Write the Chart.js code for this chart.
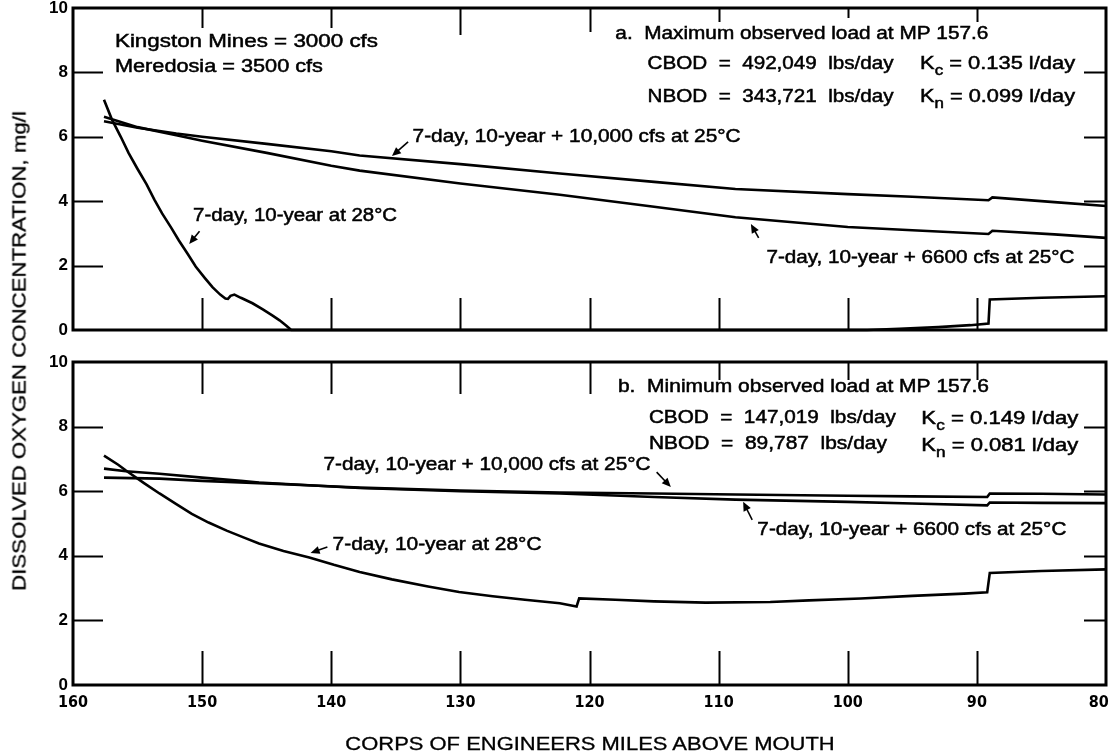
<!DOCTYPE html>
<html>
<head>
<meta charset="utf-8">
<title>Dissolved oxygen profiles, Illinois River</title>
<script src="https://cdn.jsdelivr.net/npm/chart.js@4.4.0/dist/chart.umd.min.js"></script>
<style>
  html, body { margin: 0; padding: 0; background: #fff; }
  #wrap { position: relative; width: 1110px; height: 752px; overflow: hidden; background: #fff; }
  canvas { position: absolute; left: 0; }
  #cTop { top: 0; }
  #cBot { top: 340px; }
  .axt { position: absolute; font-family: "Liberation Sans", Arial, sans-serif; color: #000; white-space: nowrap; line-height: 1; -webkit-text-stroke: 0.3px #000; }
  #xt { left: 590px; top: 744px; font-size: 18px; transform: translate(-50%, -50%) scaleX(1.22); }
  #yt { left: 19px; top: 351px; font-size: 19px; transform: translate(-50%, -50%) rotate(-90deg) scaleX(1.17); }
</style>
</head>
<body>
<div id="wrap">
  <canvas id="cTop" width="1110" height="345" style="width:1110px;height:345px"></canvas>
  <canvas id="cBot" width="1110" height="412" style="width:1110px;height:412px"></canvas>
  <div id="xt" class="axt">CORPS OF ENGINEERS MILES ABOVE MOUTH</div>
  <div id="yt" class="axt">DISSOLVED OXYGEN CONCENTRATION, mg/l</div>
</div>
<script>
// ---- axis ticks ----
const mileTicks = [160, 150, 140, 130, 120, 110, 100, 90, 80];
const doTicks = [0, 2, 4, 6, 8, 10];
const innerMileTicks = [150, 140, 130, 120, 110, 100, 90];
const innerDoTicks = [2, 4, 6, 8];

// ---- a. Maximum observed load at MP 157.6 ----
const aMiles28 = [157.6, 157.0, 156.3, 155.7, 155.0, 154.3, 153.7, 153.1, 152.4, 151.8, 151.1, 150.5, 149.8, 149.2, 148.6, 148.2, 148.0, 147.8, 147.5, 147.0, 146.1, 145.3, 144.6, 144.0, 143.5, 143.1, 98.5, 96.0, 93.0, 90.5, 89.1, 89.0, 85.0, 80.0];
const aDO28    = [7.15, 6.55, 6.00, 5.50, 5.00, 4.52, 4.05, 3.62, 3.18, 2.78, 2.35, 1.97, 1.62, 1.33, 1.10, 0.98, 0.97, 1.06, 1.10, 1.00, 0.83, 0.64, 0.46, 0.30, 0.14, 0.00, 0.00, 0.04, 0.09, 0.15, 0.20, 0.95, 1.00, 1.05];

const aMiles10k = [157.6, 155.0, 152.0, 150.0, 145.0, 140.0, 137.8, 130.0, 122.3, 115.0, 108.7, 100.0, 95.0, 89.1, 88.8, 84.0, 80.0];
const aDO10k    = [6.48, 6.28, 6.10, 6.00, 5.78, 5.55, 5.42, 5.15, 4.86, 4.60, 4.38, 4.22, 4.14, 4.03, 4.12, 3.97, 3.85];

const aMiles6600 = [157.6, 155.0, 152.0, 150.0, 145.0, 140.0, 137.8, 130.0, 122.3, 115.0, 108.7, 100.0, 95.0, 89.1, 88.8, 84.0, 80.0];
const aDO6600    = [6.62, 6.30, 6.05, 5.88, 5.50, 5.10, 4.95, 4.55, 4.20, 3.83, 3.50, 3.20, 3.10, 2.98, 3.08, 2.97, 2.86];

// ---- b. Minimum observed load at MP 157.6 ----
const bMiles28 = [157.6, 156.5, 155.9, 154.5, 153.3, 152.0, 150.8, 149.5, 148.1, 146.8, 145.6, 143.7, 141.7, 139.8, 137.8, 135.3, 132.5, 130.1, 127.5, 125.0, 122.3, 121.0, 120.8, 118.0, 115.0, 111.0, 106.0, 103.0, 99.0, 95.0, 91.0, 89.2, 89.0, 85.0, 80.0];
const bDO28    = [7.10, 6.82, 6.64, 6.25, 5.93, 5.60, 5.30, 5.03, 4.78, 4.57, 4.38, 4.15, 3.95, 3.72, 3.50, 3.27, 3.05, 2.88, 2.75, 2.64, 2.53, 2.43, 2.68, 2.64, 2.59, 2.55, 2.57, 2.62, 2.68, 2.76, 2.83, 2.87, 3.47, 3.53, 3.58];

const bMiles10k = [157.6, 153.3, 150.0, 145.6, 141.0, 137.8, 130.0, 122.3, 115.0, 108.7, 100.0, 95.0, 89.2, 89.0, 85.0, 80.0];
const bDO10k    = [6.42, 6.39, 6.32, 6.25, 6.17, 6.11, 6.02, 5.96, 5.93, 5.90, 5.86, 5.84, 5.82, 5.93, 5.92, 5.90];

const bMiles6600 = [157.6, 155.9, 153.3, 150.0, 147.0, 145.6, 141.0, 137.8, 130.0, 122.3, 115.0, 108.7, 100.0, 95.0, 89.2, 89.0, 85.0, 80.0];
const bDO6600    = [6.70, 6.62, 6.54, 6.42, 6.32, 6.27, 6.17, 6.10, 6.00, 5.93, 5.82, 5.74, 5.67, 5.62, 5.56, 5.65, 5.64, 5.63];

const TEXT_FONT = '18px "Liberation Sans", Arial, sans-serif';
const SUB_FONT = '14px "Liberation Sans", Arial, sans-serif';

function pts(miles, vals) {
  return miles.map((m, i) => ({ x: m, y: vals[i] }));
}

function series(miles, vals) {
  return {
    data: pts(miles, vals),
    borderColor: '#000',
    borderWidth: 2.6,
    pointRadius: 0,
    tension: 0,
    fill: false,
    clip: 3
  };
}

// Box border plus inward tick marks on all four sides
const framePlugin = {
  id: 'frame',
  afterDatasetsDraw(chart, args, opts) {
    const { ctx, chartArea: a, scales: { x, y } } = chart;
    ctx.save();
    ctx.strokeStyle = '#000';
    ctx.lineWidth = 2;
    ctx.beginPath();
    innerMileTicks.forEach((v, i) => {
      const px = Math.round(x.getPixelForValue(v)) + 0.5;
      ctx.moveTo(px, a.top); ctx.lineTo(px, a.top + opts.topLen[i]);
      ctx.moveTo(px, a.bottom); ctx.lineTo(px, a.bottom - opts.bottomLen);
    });
    innerDoTicks.forEach(v => {
      const py = Math.round(y.getPixelForValue(v)) + 0.5;
      ctx.moveTo(a.left, py); ctx.lineTo(a.left + opts.leftLen, py);
      ctx.moveTo(a.right, py); ctx.lineTo(a.right - opts.rightLen, py);
    });
    ctx.stroke();
    ctx.lineWidth = 3;
    ctx.strokeRect(a.left, a.top, a.right - a.left, a.bottom - a.top);
    ctx.restore();
  }
};

// Panel captions and curve labels with leader arrows
const notesPlugin = {
  id: 'notes',
  afterDatasetsDraw(chart, args, opts) {
    const { ctx, scales: { x, y } } = chart;
    ctx.save();
    ctx.fillStyle = '#000';
    ctx.strokeStyle = '#000';
    ctx.textBaseline = 'middle';
    ctx.textAlign = 'left';
    ctx.lineWidth = 0.5;
    (opts.texts || []).forEach(t => {
      const parts = Array.isArray(t.s) ? t.s : [t.s];
      let natural = 0;
      parts.forEach(p => {
        ctx.font = Array.isArray(p) ? SUB_FONT : TEXT_FONT;
        natural += ctx.measureText(Array.isArray(p) ? p[0] : p).width;
      });
      const px = x.getPixelForValue(t.x);
      const py = y.getPixelForValue(t.y);
      ctx.save();
      ctx.translate(px, py);
      ctx.scale(t.w / natural, 1);
      let cx = 0;
      parts.forEach(p => {
        const sub = Array.isArray(p);
        const str = sub ? p[0] : p;
        ctx.font = sub ? SUB_FONT : TEXT_FONT;
        const dy = sub ? 7 : 0;
        ctx.fillText(str, cx, dy);
        ctx.strokeText(str, cx, dy);
        cx += ctx.measureText(str).width;
      });
      ctx.restore();
    });
    ctx.lineWidth = 1.6;
    (opts.arrows || []).forEach(ar => {
      const x0 = x.getPixelForValue(ar[0][0]), y0 = y.getPixelForValue(ar[0][1]);
      const x1 = x.getPixelForValue(ar[1][0]), y1 = y.getPixelForValue(ar[1][1]);
      const ang = Math.atan2(y1 - y0, x1 - x0);
      const hl = 9, hw = 4;
      ctx.beginPath();
      ctx.moveTo(x0, y0);
      ctx.lineTo(x1 - Math.cos(ang) * hl * 0.7, y1 - Math.sin(ang) * hl * 0.7);
      ctx.stroke();
      ctx.beginPath();
      ctx.moveTo(x1, y1);
      ctx.lineTo(x1 - Math.cos(ang) * hl - Math.sin(ang) * hw, y1 - Math.sin(ang) * hl + Math.cos(ang) * hw);
      ctx.lineTo(x1 - Math.cos(ang) * hl + Math.sin(ang) * hw, y1 - Math.sin(ang) * hl - Math.cos(ang) * hw);
      ctx.closePath();
      ctx.fill();
    });
    ctx.restore();
  }
};

function makeChart(id, datasets, cfg) {
  return new Chart(document.getElementById(id), {
    type: 'line',
    data: { datasets },
    plugins: [framePlugin, notesPlugin],
    options: {
      responsive: false,
      animation: false,
      events: [],
      layout: { padding: cfg.padding },
      scales: {
        x: {
          type: 'linear',
          reverse: true,
          min: 80,
          max: 160,
          display: cfg.showX,
          afterBuildTicks: s => { s.ticks = mileTicks.map(v => ({ value: v })); },
          afterFit: s => { s.height = cfg.xHeight; s.paddingLeft = 0; s.paddingRight = 0; },
          grid: { display: false, drawTicks: false },
          border: { display: false },
          ticks: {
            autoSkip: false,
            maxRotation: 0,
            padding: 8,
            color: '#000',
            // the last label sits on the page edge; an em space keeps its digits inside
            callback: v => (v === 80 ? '80\u2003' : String(v)),
            font: { family: '"DejaVu Sans Condensed", "Liberation Sans", Arial, sans-serif', size: 16, weight: 'bold' }
          }
        },
        y: {
          type: 'linear',
          min: 0,
          max: 10,
          afterBuildTicks: s => { s.ticks = doTicks.map(v => ({ value: v })); },
          afterFit: s => { s.width = 73; s.paddingTop = 0; s.paddingBottom = 0; },
          grid: { display: false, drawTicks: false },
          border: { display: false },
          ticks: {
            padding: 5,
            color: '#000',
            font: { family: '"Liberation Sans", Arial, sans-serif', size: 17, weight: 'bold' }
          }
        }
      },
      plugins: {
        legend: { display: false },
        tooltip: { enabled: false },
        frame: cfg.frame,
        notes: cfg.notes
      }
    }
  });
}

makeChart('cTop', [
  series(aMiles28, aDO28),
  series(aMiles10k, aDO10k),
  series(aMiles6600, aDO6600)
], {
  padding: { top: 8, left: 0, right: 4, bottom: 15 },
  showX: false,
  xHeight: 0,
  frame: { topLen: [20, 20, 27, 24, 14, 10, 14], bottomLen: 32, leftLen: 30, rightLen: 22 },
  notes: {
    texts: [
      { s: 'Kingston Mines = 3000 cfs', x: 156.75, y: 8.94, w: 263 },
      { s: 'Meredosia = 3500 cfs', x: 156.75, y: 8.17, w: 208 },
      { s: 'a.  Maximum observed load at MP 157.6', x: 118.0, y: 9.19, w: 373 },
      { s: 'CBOD  =  492,049  lbs/day', x: 115.5, y: 8.26, w: 246 },
      { s: ['K', ['c'], ' = 0.135 l/day'], x: 94.4, y: 8.26, w: 155 },
      { s: 'NBOD  =  343,721  lbs/day', x: 115.5, y: 7.24, w: 246 },
      { s: ['K', ['n'], ' = 0.099 l/day'], x: 94.4, y: 7.24, w: 155 },
      { s: '7-day, 10-year + 10,000 cfs at 25°C', x: 133.7, y: 5.99, w: 328 },
      { s: '7-day, 10-year at 28°C', x: 150.7, y: 3.54, w: 204 },
      { s: '7-day, 10-year + 6600 cfs at 25°C', x: 106.3, y: 2.24, w: 308 }
    ],
    arrows: [
      [[134.05, 5.84], [135.3, 5.40]],
      [[150.2, 3.07], [151.0, 2.67]],
      [[106.9, 2.86], [107.5, 3.29]]
    ]
  }
});

makeChart('cBot', [
  series(bMiles28, bDO28),
  series(bMiles10k, bDO10k),
  series(bMiles6600, bDO6600)
], {
  padding: { top: 22, left: 0, right: 4, bottom: 0 },
  showX: true,
  xHeight: 67,
  frame: { topLen: [32, 32, 32, 32, 18, 18, 18], bottomLen: 34, leftLen: 30, rightLen: 22 },
  notes: {
    texts: [
      { s: 'b.  Minimum observed load at MP 157.6', x: 117.8, y: 9.23, w: 371 },
      { s: 'CBOD  =  147,019  lbs/day', x: 115.4, y: 8.27, w: 247 },
      { s: ['K', ['c'], ' = 0.149 l/day'], x: 94.3, y: 8.24, w: 157 },
      { s: 'NBOD  =  89,787  lbs/day', x: 115.4, y: 7.46, w: 238 },
      { s: ['K', ['n'], ' = 0.081 l/day'], x: 94.3, y: 7.40, w: 157 },
      { s: '7-day, 10-year + 10,000 cfs at 25°C', x: 140.6, y: 6.81, w: 327 },
      { s: '7-day, 10-year + 6600 cfs at 25°C', x: 107.0, y: 4.80, w: 309 },
      { s: '7-day, 10-year at 28°C', x: 139.9, y: 4.33, w: 209 }
    ],
    arrows: [
      [[114.8, 6.59], [113.7, 6.13]],
      [[107.4, 5.11], [108.1, 5.67]],
      [[140.3, 4.27], [141.6, 4.09]]
    ]
  }
});
</script>
</body>
</html>
